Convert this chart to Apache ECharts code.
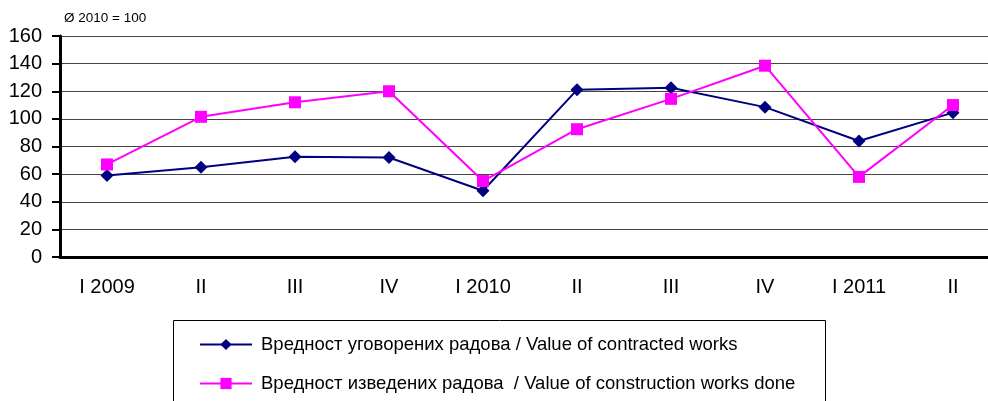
<!DOCTYPE html>
<html>
<head>
<meta charset="utf-8">
<script src="https://cdn.jsdelivr.net/npm/echarts@6/dist/echarts.min.js"></script>
<style>
  html, body { margin: 0; padding: 0; background: #fff; overflow: hidden; }
  #chart { width: 1000px; height: 401px; }
</style>
</head>
<body>
<div id="chart"></div>
<script>
const quarters = ['I 2009', 'II', 'III', 'IV', 'I 2010', 'II', 'III', 'IV', 'I 2011', 'II']
const contracted = [59, 65, 72.5, 72, 48, 121, 122.5, 108.5, 84, 104.5]
const done = [67, 101.5, 112, 120, 55, 92.5, 114.5, 138.5, 58, 110]
const seriesNames = [
  'Вредност уговорених радова / Value of contracted works',
  'Вредност изведених радова  / Value of construction works done'
]
const font = 'Arial, "Liberation Sans", sans-serif'

// chart is a bit wider than the window: the plot runs past the right edge like the original
const chart = echarts.init(document.getElementById('chart'))
chart.setOption({
  backgroundColor: '#fff',
  animation: false,
  textStyle: { fontFamily: font },
  grid: { left: 60, right: 0, top: 36, bottom: 144 },
  graphic: [
    { type: 'text', left: 64, top: 11, style: { text: 'Ø 2010 = 100', font: '13.5px ' + font, fill: '#000' } },
    { type: 'rect', shape: { x: 173.5, y: 320.5, width: 652, height: 100 }, style: { fill: 'none', stroke: '#000', lineWidth: 1 } }
  ],
  legend: {
    orient: 'vertical',
    left: 194,
    top: 330,
    itemWidth: 52,
    itemHeight: 14,
    itemGap: 20,
    textStyle: { fontSize: 18.5, color: '#000', padding: [0, 0, 0, 4] },
    data: seriesNames
  },
  xAxis: {
    type: 'category',
    data: quarters,
    axisLine: { lineStyle: { color: '#000', width: 3 } },
    axisTick: { length: 7, lineStyle: { color: '#000', width: 2 } },
    axisLabel: { color: '#000', fontSize: 20, margin: 20 }
  },
  yAxis: {
    type: 'value',
    min: 0,
    max: 160,
    interval: 20,
    axisLine: { show: true, lineStyle: { color: '#000', width: 3 } },
    axisTick: { show: true, length: 8, lineStyle: { color: '#000', width: 2 } },
    axisLabel: { color: '#000', fontSize: 20, margin: 18 },
    splitLine: { lineStyle: { color: '#444', width: 1 } }
  },
  series: [
    {
      name: seriesNames[0],
      type: 'line',
      data: contracted,
      symbol: 'diamond',
      symbolSize: 13,
      lineStyle: { color: '#000080', width: 2 },
      itemStyle: { color: '#000080' }
    },
    {
      name: seriesNames[1],
      type: 'line',
      data: done,
      symbol: 'rect',
      symbolSize: 12,
      lineStyle: { color: '#ff00ff', width: 2 },
      itemStyle: { color: '#ff00ff' }
    }
  ]
})
</script>
</body>
</html>
